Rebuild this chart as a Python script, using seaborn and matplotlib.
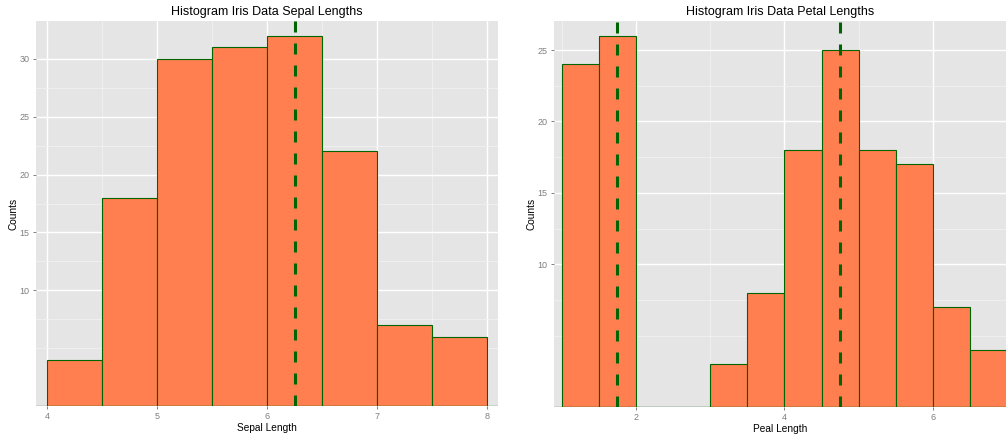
import matplotlib
matplotlib.use("Agg")
import matplotlib.pyplot as plt
import numpy as np
import pandas as pd
import seaborn as sns

# Binned iris measurements (bin width 0.5)
sepal_edges = [4.0, 4.5, 5.0, 5.5, 6.0, 6.5, 7.0, 7.5, 8.0]
sepal_counts = [4, 18, 30, 31, 32, 22, 7, 6]
sepal_marks = [6.25]

petal_edges = [1.0, 1.5, 2.0, 2.5, 3.0, 3.5, 4.0, 4.5, 5.0, 5.5, 6.0, 6.5, 7.0]
petal_counts = [24, 26, 0, 0, 3, 8, 18, 25, 18, 17, 7, 4]
petal_marks = [1.75, 4.75]

y_breaks = [10, 15, 20, 25, 30]
sepal_xticks = [4, 5, 6, 7, 8]
petal_xticks = [2, 4, 6]

sns.set_theme(style="darkgrid")
plt.rcParams["font.family"] = ["Liberation Sans", "DejaVu Sans"]

FILL = "#FF7F50"
EDGE = "#006400"
PANEL = "#E5E5E5"
MINOR = "#F2F2F2"
TICKC = "#7F7F7F"

fig = plt.figure(figsize=(10.06, 4.34), dpi=100)
ax1 = fig.add_axes([36 / 1006, 28 / 434, 462 / 1006, 385 / 434])
ax2 = fig.add_axes([554 / 1006, 27 / 434, 452 / 1006, 386 / 434])


def panel(ax, edges, counts, marks, xticks, xlim, title, xlabel):
    e = np.asarray(edges, dtype=float)
    df = pd.DataFrame({"value": (e[:-1] + e[1:]) / 2,
                       "count": np.asarray(counts, dtype=float)})
    sns.histplot(data=df, x="value", weights="count", bins=list(edges), ax=ax,
                 color=FILL, edgecolor=EDGE, linewidth=0.8, alpha=1.0,
                 zorder=3)
    ymax = max(counts) * 1.04
    ax.set_xlim(*xlim)
    ax.set_ylim(0, ymax)
    ax.set_facecolor(PANEL)
    for s in ax.spines.values():
        s.set_visible(False)
    ax.axhline(0, color=EDGE, linewidth=0.9, zorder=3.5)

    yb = [b for b in y_breaks if b <= ymax]
    ax.set_yticks(yb)
    ax.set_yticklabels([str(b) for b in yb])
    step = 5
    ext = [yb[0] - step] + yb + ([yb[-1] + step] if yb[-1] + step <= ymax else [])
    yminor = sorted(set(ext + [(a + b) / 2 for a, b in zip(ext[:-1], ext[1:])]) - set(yb))
    ax.set_yticks([m for m in yminor if 0 < m < ymax], minor=True)

    ax.set_xticks(xticks)
    xs = xticks[1] - xticks[0]
    xext = [xticks[0] - xs] + list(xticks) + [xticks[-1] + xs]
    xminor = [(a + b) / 2 for a, b in zip(xext[:-1], xext[1:])]
    ax.set_xticks([m for m in xminor if xlim[0] < m < xlim[1]], minor=True)

    ax.grid(which="major", color="white", linewidth=1.0, zorder=0)
    ax.grid(which="minor", color=MINOR, linewidth=0.6, zorder=0)
    ax.set_axisbelow(True)

    ax.tick_params(which="major", length=2.5, width=0.7, color=TICKC,
                   labelcolor=TICKC, labelsize=6.5, pad=2,
                   bottom=True, left=True)
    ax.tick_params(which="minor", length=0)

    for m in marks:
        ax.axvline(m, color=EDGE, linewidth=2.2, linestyle=(0, (3.6, 3.6)),
                   zorder=4)

    ax.set_title(title, fontsize=9, color="black", pad=4)
    ax.set_xlabel(xlabel, fontsize=7.3, color="black", labelpad=1)
    ax.set_ylabel("Counts", fontsize=7.3, color="black", labelpad=1)


panel(ax1, sepal_edges, sepal_counts, sepal_marks, sepal_xticks, (3.9, 8.1),
      "Histogram Iris Data Sepal Lengths", "Sepal Length")
panel(ax2, petal_edges, petal_counts, petal_marks, petal_xticks, (0.895, 6.985),
      "Histogram Iris Data Petal Lengths", "Peal Length")

fig.savefig("out.png", dpi=100, facecolor="white")
